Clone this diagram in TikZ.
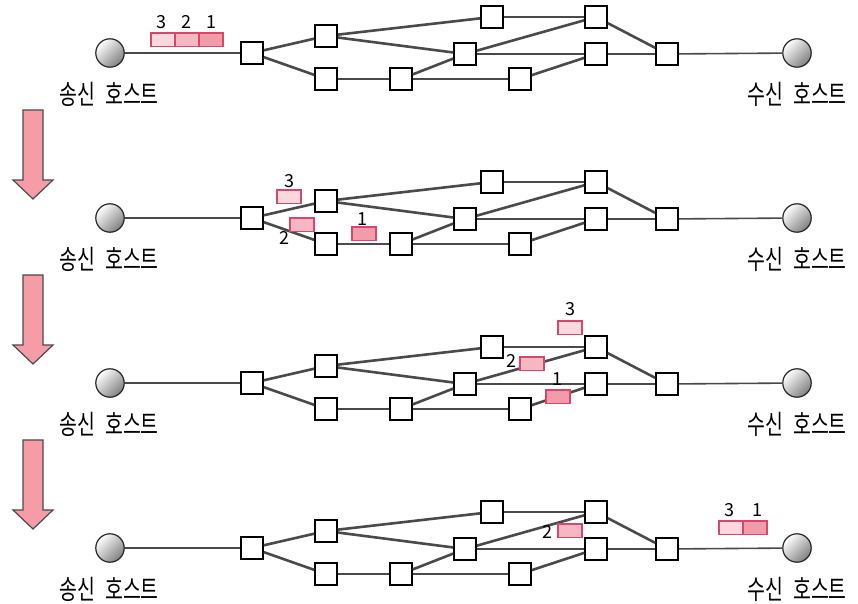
\documentclass[tikz,border=0pt]{standalone}
\usepackage{fontspec}
\usepackage{graphicx}
\newfontfamily\krfont{Noto Sans CJK KR}
\usetikzlibrary{positioning}
\definecolor{pkline}{HTML}{D8476B}
\definecolor{pklight}{HTML}{F9D8DE}
\definecolor{pkmid}{HTML}{F5B7C2}
\definecolor{pkdark}{HTML}{F29CA9}
\definecolor{linkgray}{HTML}{4A4A4A}
\definecolor{arrowpink}{HTML}{F59CA7}
\newcommand{\hostname}[1]{\scalebox{0.72}[1]{#1}}
\tikzset{
  router/.style={rectangle, draw=black, line width=1.05pt, fill=white, minimum size=10.8pt, inner sep=0pt},
  host/.style={circle, draw=black!85, line width=0.6pt, minimum size=14.2pt, inner sep=0pt,
    top color=white, bottom color=black!50, shading angle=45},
  link/.style={draw=linkgray, line width=1.3pt},
  hostlink/.style={draw=linkgray, line width=0.8pt},
  packet/.style={rectangle, draw=pkline, line width=0.9pt, minimum width=12pt, minimum height=6.6pt, inner sep=0pt},
  pnum/.style={font=\krfont\fontsize{9}{9}\selectfont, inner sep=0pt},
  hostlabel/.style={font=\krfont\fontsize{13.5}{13.5}\selectfont, inner sep=0pt},
  downarrow/.style={fill=arrowpink, draw=black!70, line width=0.6pt, line join=miter}
}
\begin{document}
\begin{tikzpicture}[x=0.5pt, y=-0.5pt]
  \useasboundingbox (0,0) rectangle (858,604);

  % the same network, drawn once for every step
  \foreach \r/\dy in {1/0, 2/165, 3/330, 4/495} {
    % hosts
    \node[host] (s\r) at (110,{53+\dy}) {};
    \node[host] (t\r) at (797,{53+\dy}) {};
    \node[hostlabel] (sl\r) at (109,{94+\dy}) {\hostname{송신\hspace{0.3em} 호스트}};
    \node[hostlabel] (tl\r) at (797,{94+\dy}) {\hostname{수신\hspace{0.3em} 호스트}};

    % routers
    \node[router] (a\r) at (252,{53+\dy}) {};
    \node[router] (b\r) at (326,{36+\dy}) {};
    \node[router] (c\r) at (326,{79+\dy}) {};
    \node[router] (d\r) at (401,{79+\dy}) {};
    \node[router] (e\r) at (465,{54+\dy}) {};
    \node[router] (f\r) at (492,{17+\dy}) {};
    \node[router] (g\r) at (520,{79+\dy}) {};
    \node[router] (h\r) at (596,{17+\dy}) {};
    \node[router] (i\r) at (596,{54+\dy}) {};
    \node[router] (j\r) at (667,{54+\dy}) {};

    % links
    \draw[hostlink] (s\r) -- (a\r);
    \draw[hostlink] (j\r) -- (t\r);
    \draw[link] (a\r) -- (b\r);
    \draw[link] (a\r) -- (c\r);
    \draw[link] (b\r) -- (f\r);
    \draw[link] (b\r) -- (e\r);
    \draw[link] (c\r) -- (d\r);
    \draw[link] (d\r) -- (e\r);
    \draw[link] (d\r) -- (g\r);
    \draw[link] (e\r) -- (h\r);
    \draw[link] (e\r) -- (i\r);
    \draw[link] (f\r) -- (h\r);
    \draw[link] (g\r) -- (i\r);
    \draw[link] (h\r) -- (j\r);
    \draw[link] (i\r) -- (j\r);
  }

  % step arrows
  \foreach \y in {110, 275, 440}
    \draw[downarrow] (23,\y) -- (43,\y) -- (43,{\y+70}) -- (53,{\y+70})
      -- (33,{\y+89}) -- (13,{\y+70}) -- (23,{\y+70}) -- cycle;

  % step 1: packets leave the sender
  \node[packet, fill=pkdark] (p11) at (211,40) {};
  \node[packet, fill=pkmid, left=-0.9pt of p11] (p12) {};
  \node[packet, fill=pklight, left=-0.9pt of p12] (p13) {};
  \node[pnum] (n11) at (211,22) {1};
  \node[pnum] (n12) at (186,22) {2};
  \node[pnum] (n13) at (161,22) {3};

  % step 2
  \node[packet, fill=pklight] (p23) at (289,197) {};
  \node[packet, fill=pkmid] (p22) at (302,225) {};
  \node[packet, fill=pkdark] (p21) at (364,234) {};
  \node[pnum] (n23) at (289,181) {3};
  \node[pnum] (n22) at (284,238) {2};
  \node[pnum] (n21) at (362,219) {1};

  % step 3
  \node[packet, fill=pklight] (p33) at (570,328) {};
  \node[packet, fill=pkmid] (p32) at (532,364) {};
  \node[packet, fill=pkdark] (p31) at (558,397) {};
  \node[pnum] (n33) at (570,309) {3};
  \node[pnum] (n32) at (511,361) {2};
  \node[pnum] (n31) at (557,379) {1};

  % step 4: packets reach the receiver out of order
  \node[packet, fill=pkmid] (p42) at (570,531) {};
  \node[packet, fill=pkdark] (p41) at (755,528) {};
  \node[packet, fill=pklight, left=-0.9pt of p41] (p43) {};
  \node[pnum] (n42) at (547,532) {2};
  \node[pnum] (n43) at (729,510) {3};
  \node[pnum] (n41) at (757,510) {1};
\end{tikzpicture}
\end{document}
